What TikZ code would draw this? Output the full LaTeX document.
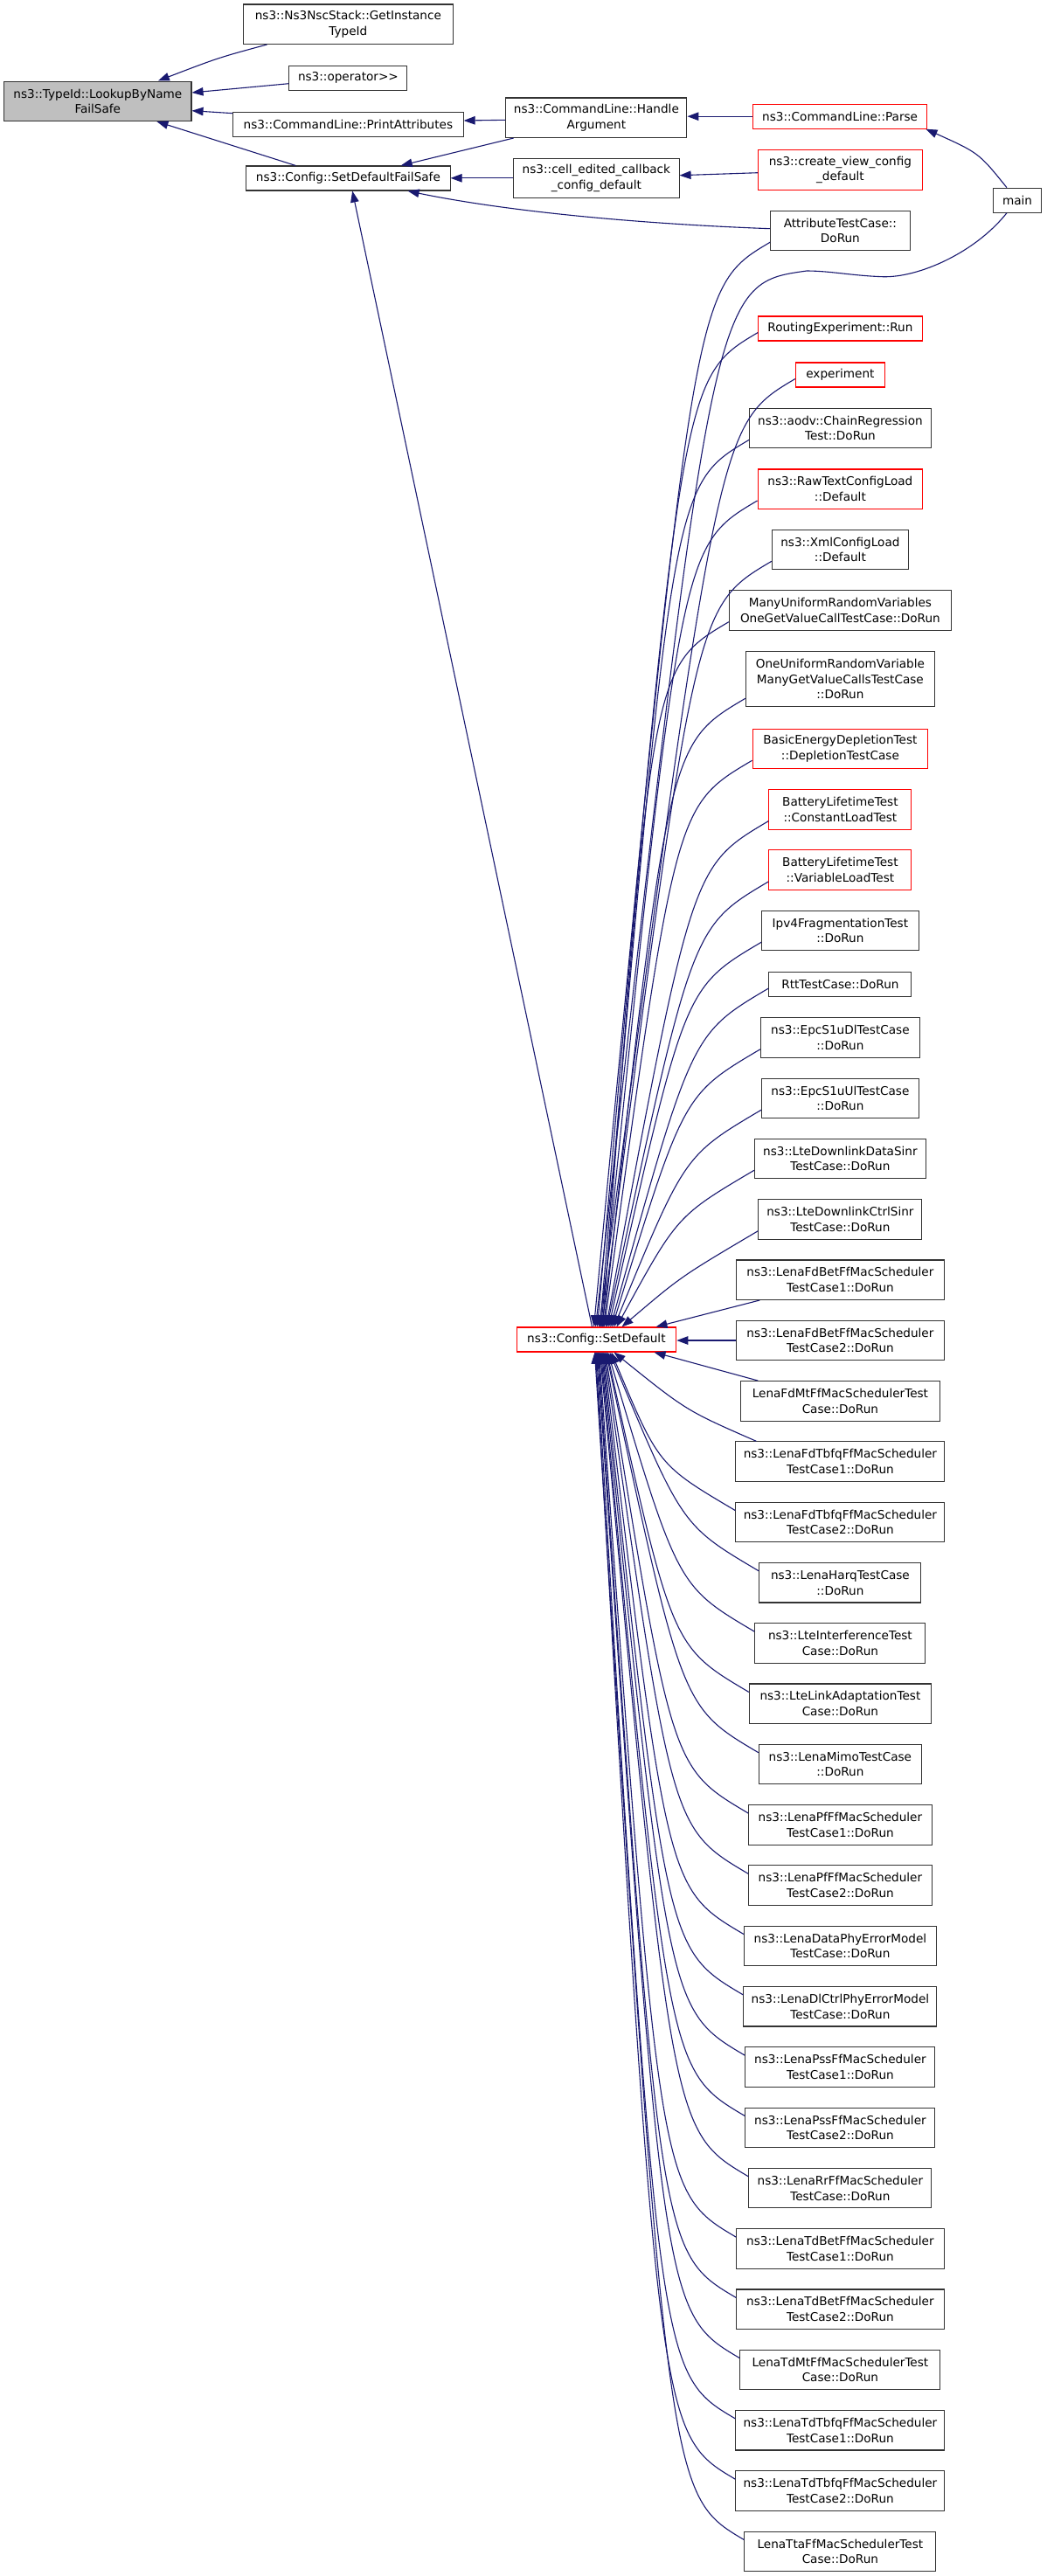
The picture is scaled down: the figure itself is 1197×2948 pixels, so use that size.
\documentclass[tikz,border=0pt]{standalone}
\usepackage{fontspec}
\setmainfont{DejaVu Sans}
\usetikzlibrary{arrows.meta,calc}
\definecolor{edgec}{HTML}{191970}
\definecolor{boxc}{HTML}{333333}
\definecolor{grayfill}{HTML}{BFBFBF}
\definecolor{redc}{HTML}{FF0000}
\newcommand\boxfont{\fontsize{13.6}{17.7}\selectfont}
\newcommand\upedge[2]{\draw[calledge] ($(#1.south west)+(0,-10)$) .. controls ($(#1.south west)+(-88,42)$) .. ($(SD.north west)+(#2,0)$);}
\newcommand\downedge[2]{\draw[calledge] ($(#1.north west)+(0,10)$) .. controls ($(#1.north west)+(-88,-42)$) .. ($(SD.south west)+(#2,0)$);}
\begin{document}
\begin{tikzpicture}[x=1pt,y=-1pt,
  box/.style={draw=boxc,line width=1.1pt,fill=white,inner sep=0pt,align=center,font=\boxfont},
  hone/.style={minimum height=28pt},
  htwo/.style={minimum height=45.5pt},
  hthree/.style={minimum height=63pt},
  redbox/.style={draw=redc},
  calledge/.style={draw=edgec,line width=1.1pt,-{Triangle[length=13pt,width=9.5pt]}}]
\fill[white] (0,0) rectangle (1197,2948);
\useasboundingbox (0,0) rectangle (1197,2948);
% left part
\node[box,htwo,fill=grayfill,minimum width=214.4pt] (LBN) at (111.8,115.8) {ns3::TypeId::LookupByName\\FailSafe};
\node[box,htwo,minimum width=239.4pt] (GIT) at (398.4,27.7) {ns3::Ns3NscStack::GetInstance\\TypeId};
\node[box,hone,minimum width=135pt] (OPR) at (398.4,89.3) {ns3::operator>{}>};
\node[box,hone,minimum width=263.3pt] (PA) at (398.4,142.5) {ns3::CommandLine::PrintAttributes};
\node[box,hone,minimum width=233.3pt] (SDFS) at (398.4,204) {ns3::Config::SetDefaultFailSafe};
\node[box,htwo,minimum width=207pt] (HA) at (682.4,134.7) {ns3::CommandLine::Handle\\Argument};
\node[box,htwo,minimum width=189.3pt] (CE) at (682.4,203.8) {ns3::cell\_edited\_callback\\\_config\_default};
\node[box,hone,redbox,minimum width=182.7pt] (SD) at (682.4,1533) {ns3::Config::SetDefault};
\node[box,hone,redbox,minimum width=199.6pt] (PAR) at (961.1,133.2) {ns3::CommandLine::Parse};
\node[box,htwo,redbox,minimum width=187.3pt] (CV) at (961.4,194.3) {ns3::create\_view\_config\\\_default};
\node[box,htwo,minimum width=159.3pt] (ATC) at (961.4,263.9) {AttributeTestCase::\\DoRun};
\node[box,hone,minimum width=55pt] (MAIN) at (1164,229.2) {main};
% right column
\node[box,hone,redbox,minimum width=187.3pt] (RX) at (961.4,376) {RoutingExperiment::Run};
\node[box,hone,redbox,minimum width=102pt] (EXP) at (961.4,429) {experiment};
\node[box,htwo,minimum width=207.3pt] (CRT) at (961.4,490) {ns3::aodv::ChainRegression\\Test::DoRun};
\node[box,htwo,redbox,minimum width=188.7pt] (RAW) at (961.4,559.7) {ns3::RawTextConfigLoad\\::Default};
\node[box,htwo,minimum width=156pt] (XML) at (961.4,629) {ns3::XmlConfigLoad\\::Default};
\node[box,htwo,minimum width=254pt] (MANY) at (961.4,698.4) {ManyUniformRandomVariables\\OneGetValueCallTestCase::DoRun};
\node[box,hthree,minimum width=216pt] (ONE) at (961.4,777.2) {OneUniformRandomVariable\\ManyGetValueCallsTestCase\\::DoRun};
\node[box,htwo,redbox,minimum width=200.7pt] (BED) at (961.4,857) {BasicEnergyDepletionTest\\::DepletionTestCase};
\node[box,htwo,redbox,minimum width=163pt] (BCL) at (961.4,926.3) {BatteryLifetimeTest\\::ConstantLoadTest};
\node[box,htwo,redbox,minimum width=163pt] (BVL) at (961.4,995.6) {BatteryLifetimeTest\\::VariableLoadTest};
\node[box,htwo,minimum width=179.3pt] (IPV) at (961.4,1064.9) {Ipv4FragmentationTest\\::DoRun};
\node[box,hone,minimum width=163pt] (RTT) at (961.4,1126.5) {RttTestCase::DoRun};
\node[box,htwo,minimum width=182pt] (EDL) at (961.4,1187.5) {ns3::EpcS1uDlTestCase\\::DoRun};
\node[box,htwo,minimum width=179.3pt] (EUL) at (961.4,1256.8) {ns3::EpcS1uUlTestCase\\::DoRun};
\node[box,htwo,minimum width=196pt] (DDS) at (961.4,1326) {ns3::LteDownlinkDataSinr\\TestCase::DoRun};
\node[box,htwo,minimum width=187pt] (DCS) at (961.4,1395.4) {ns3::LteDownlinkCtrlSinr\\TestCase::DoRun};
\node[box,htwo,minimum width=237.3pt] (FB1) at (961.4,1464.7) {ns3::LenaFdBetFfMacScheduler\\TestCase1::DoRun};
\node[box,htwo,minimum width=237.3pt] (FB2) at (961.4,1534) {ns3::LenaFdBetFfMacScheduler\\TestCase2::DoRun};
\node[box,htwo,minimum width=227.3pt] (FMT) at (961.4,1603.3) {LenaFdMtFfMacSchedulerTest\\Case::DoRun};
\node[box,htwo,minimum width=239pt] (FT1) at (961.4,1672.6) {ns3::LenaFdTbfqFfMacScheduler\\TestCase1::DoRun};
\node[box,htwo,minimum width=239pt] (FT2) at (961.4,1741.9) {ns3::LenaFdTbfqFfMacScheduler\\TestCase2::DoRun};
\node[box,htwo,minimum width=185pt] (HARQ) at (961.4,1811.2) {ns3::LenaHarqTestCase\\::DoRun};
\node[box,htwo,minimum width=195pt] (LIT) at (961.4,1880.5) {ns3::LteInterferenceTest\\Case::DoRun};
\node[box,htwo,minimum width=208pt] (LLA) at (961.4,1949.7) {ns3::LteLinkAdaptationTest\\Case::DoRun};
\node[box,htwo,minimum width=186pt] (MIMO) at (961.4,2019) {ns3::LenaMimoTestCase\\::DoRun};
\node[box,htwo,minimum width=209.4pt] (PF1) at (961.4,2088.3) {ns3::LenaPfFfMacScheduler\\TestCase1::DoRun};
\node[box,htwo,minimum width=209.4pt] (PF2) at (961.4,2157.6) {ns3::LenaPfFfMacScheduler\\TestCase2::DoRun};
\node[box,htwo,minimum width=219.4pt] (DPE) at (961.4,2226.9) {ns3::LenaDataPhyErrorModel\\TestCase::DoRun};
\node[box,htwo,minimum width=221pt] (DCP) at (961.4,2296.2) {ns3::LenaDlCtrlPhyErrorModel\\TestCase::DoRun};
\node[box,htwo,minimum width=217pt] (PS1) at (961.4,2365.5) {ns3::LenaPssFfMacScheduler\\TestCase1::DoRun};
\node[box,htwo,minimum width=217pt] (PS2) at (961.4,2434.8) {ns3::LenaPssFfMacScheduler\\TestCase2::DoRun};
\node[box,htwo,minimum width=209pt] (RR) at (961.4,2504.1) {ns3::LenaRrFfMacScheduler\\TestCase::DoRun};
\node[box,htwo,minimum width=237.3pt] (TB1) at (961.4,2573.4) {ns3::LenaTdBetFfMacScheduler\\TestCase1::DoRun};
\node[box,htwo,minimum width=237.3pt] (TB2) at (961.4,2642.7) {ns3::LenaTdBetFfMacScheduler\\TestCase2::DoRun};
\node[box,htwo,minimum width=229pt] (TMT) at (961.4,2711.9) {LenaTdMtFfMacSchedulerTest\\Case::DoRun};
\node[box,htwo,minimum width=239pt] (TT1) at (961.4,2781.2) {ns3::LenaTdTbfqFfMacScheduler\\TestCase1::DoRun};
\node[box,htwo,minimum width=239pt] (TT2) at (961.4,2850.5) {ns3::LenaTdTbfqFfMacScheduler\\TestCase2::DoRun};
\node[box,htwo,minimum width=219pt] (TTA) at (961.4,2919.8) {LenaTtaFfMacSchedulerTest\\Case::DoRun};
% edges, left part
\draw[calledge] ($(GIT.south west)+(27.3,0)$) .. controls (250,66) .. ($(LBN.north west)+(176.8,0)$);
\draw[calledge] ($(OPR.west)+(0,6.4)$) -- ($(LBN.east)+(0,-9.8)$);
\draw[calledge] ($(PA.north west)+(0,1.7)$) -- ($(LBN.east)+(0,10.9)$);
\draw[calledge] ($(SDFS.north west)+(57,0)$) -- ($(LBN.south west)+(175.4,0)$);
\draw[calledge] ($(HA.west)+(0,2.6)$) -- ($(PA.east)+(0,-4.5)$);
\draw[calledge] ($(HA.south west)+(9.3,0)$) -- ($(SDFS.north west)+(177.5,0)$);
\draw[calledge] (PAR.west) -- (PAR.west -| HA.east);
\draw[calledge] (CE.west) -- (CE.west -| SDFS.east);
\draw[calledge] ($(CV.west)+(0,3.4)$) -- ($(CE.east)+(0,-3.1)$);
\draw[calledge] ($(ATC.west)+(0,-2.2)$) .. controls (700,255) and (560,238) .. ($(SDFS.south east)+(-49,0)$);
\draw[calledge] ($(SD.north west)+(87,0)$) -- ($(SDFS.south west)+(122,0)$);
\draw[calledge] ($(MAIN.north west)+(16,0)$) .. controls (1120,175) .. ($(PAR.south east)+(-2,0)$);
\draw[calledge] ($(MAIN.south west)+(16,0)$) .. controls (1115,290) and (1050,318) .. (1010,316.7)
   .. controls (975,315.5) and (950,310) .. (923,310) .. controls (815,325) .. ($(SD.north west)+(91,0)$);
% edges into SetDefault from above
\upedge{ATC}{89}
\upedge{RX}{93}
\upedge{EXP}{95}
\upedge{CRT}{96}
\upedge{RAW}{97}
\upedge{XML}{98}
\upedge{MANY}{99}
\upedge{ONE}{100}
\upedge{BED}{101}
\upedge{BCL}{103}
\upedge{BVL}{104}
\upedge{IPV}{106}
\upedge{RTT}{108}
\upedge{EDL}{110}
\upedge{EUL}{112}
\upedge{DDS}{115}
\upedge{DCS}{121}
\draw[calledge] ($(FB1.south west)+(27,0)$) -- ($(SD.north west)+(160,0)$);
\draw[calledge] (FB2.west) -- (FB2.west -| SD.east);
\draw[calledge] ($(FMT.north west)+(20,0)$) -- ($(SD.south west)+(158,0)$);
\draw[calledge] ($(FT1.north west)+(24,0)$) .. controls ($(FT1.north west)+(-56,-35)$) .. ($(SD.south west)+(112,0)$);
% edges into SetDefault from below
\downedge{FT2}{109}
\downedge{HARQ}{107}
\downedge{LIT}{105}
\downedge{LLA}{104}
\downedge{MIMO}{103}
\downedge{PF1}{102}
\downedge{PF2}{101}
\downedge{DPE}{100}
\downedge{DCP}{99}
\downedge{PS1}{98}
\downedge{PS2}{97}
\downedge{RR}{96}
\downedge{TB1}{95}
\downedge{TB2}{94}
\downedge{TMT}{93}
\downedge{TT1}{92}
\downedge{TT2}{91}
\downedge{TTA}{90}
\end{tikzpicture}
\end{document}
